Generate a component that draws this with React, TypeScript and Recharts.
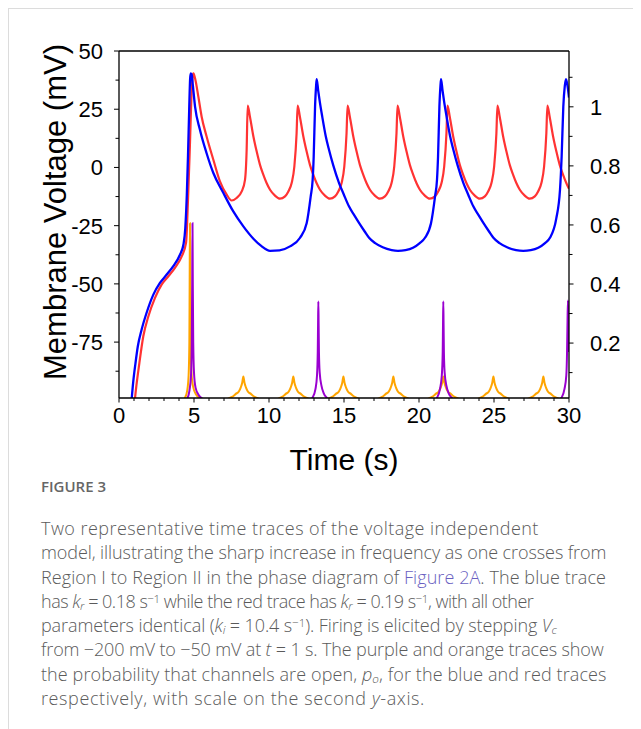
import React from "react";
import { LineChart, Line, XAxis, YAxis, ReferenceLine } from "recharts";

// ---------- data ----------
const timeTicks = [0,1,2,3,4,5,6,7,8,9,10,11,12,13,14,15,16,17,18,19,20,21,22,23,24,25,26,27,28,29,30];
const voltageTicks = [-87.5,-75,-62.5,-50,-37.5,-25,-12.5,0,12.5,25,37.5,50];
const probTicks = [0.1,0.2,0.3,0.4,0.5,0.6,0.7,0.8,0.9,1.0,1.1];
const probMajorLabels: Record<string, string> = { "0.2": "0.2", "0.4": "0.4", "0.6": "0.6", "0.8": "0.8", "1": "1" };

// blue membrane voltage (t [s], V [mV])
const blueVoltage: [number, number][] = [
  [0.8,-103],[0.95,-92],[1.1,-84],[1.25,-77],[1.51,-69.6],[1.84,-62.4],[2.29,-54.6],[2.73,-49.6],
  [3.18,-46],[3.62,-42.4],[4.07,-37.4],[4.3,-33],[4.42,-26],[4.52,-12],[4.6,5],[4.68,25],[4.74,38],
  [4.78,40.4],[4.84,40],[4.91,36.1],[5.07,26.1],[5.4,16.1],[5.84,6.1],[6.29,-2.4],[6.96,-11],
  [7.62,-18.9],[8.29,-25.3],[8.96,-30.6],[9.5,-33.8],[10.07,-35.8],[10.7,-35.6],[11.4,-33.9],
  [12.07,-30.2],[12.51,-24],[12.78,-12.4],[12.91,-5.3],[12.98,4.7],[13.07,26],[13.14,35],[13.18,37.9],
  [13.28,33],[13.38,28.5],[13.55,21.8],[13.78,13.5],[14.0,7.6],[14.28,1],[14.67,-6.7],[14.98,-11.5],
  [15.33,-16.7],[15.68,-20.5],[16.0,-23.8],[16.38,-27.5],[16.67,-30.2],[17.08,-32.5],[17.58,-34.3],
  [18.18,-35.5],[18.6,-35.8],[19.1,-35.5],[19.6,-34.5],[20.05,-32.5],[20.4,-30.2],[20.8,-24],
  [21.07,-12.4],[21.2,-5.3],[21.27,4.7],[21.36,26],[21.43,35],[21.47,37.9],
  [21.57,33],[21.67,28.5],[21.84,21.8],[22.07,13.5],[22.29,7.6],[22.57,1],[22.96,-6.7],[23.27,-11.5],
  [23.62,-16.7],[23.97,-20.5],[24.29,-23.8],[24.67,-27.5],[24.96,-30.2],[25.37,-32.5],[25.87,-34.3],
  [26.47,-35.5],[26.95,-35.8],[27.45,-35.5],[27.95,-34.5],[28.4,-32.5],[28.73,-30.2],[29.15,-22],
  [29.4,-9.6],[29.51,4.7],[29.62,26],[29.72,35],[29.8,37.9],[29.9,35],[30,30]
];

// red membrane voltage (t [s], V [mV])
const redVoltage: [number, number][] = [
  [1.0,-104],[1.07,-99],[1.36,-83.9],[1.62,-72.5],[1.96,-63.9],[2.4,-56],[2.84,-50.3],[3.29,-46.7],
  [3.73,-43.1],[4.18,-38.2],[4.47,-32.4],[4.6,-14],[4.73,10],[4.84,32],[4.9,38.5],[4.96,40.4],
  [5.07,38.3],[5.29,30.4],[5.51,21.8],[5.84,13.3],[6.29,3.3],[6.73,-6],[7.18,-11.7],[7.51,-14.2],
  [7.84,-13.1],[8.18,-10.3],[8.4,-5.3],[8.51,7.6],[8.58,26.6],
  [8.73,21.8],[8.96,13.3],[9.18,6.8],[9.4,1.1],[9.62,-3.1],[9.84,-6.7],[10.07,-9.6],[10.4,-12.1],
  [10.73,-13.4],[11.07,-12.4],[11.29,-10.3],[11.51,-6.7],[11.69,0.4],[11.84,14.7],[11.91,26.6],
  [12.06,21.8],[12.29,13.3],[12.51,6.8],[12.73,1.1],[12.95,-3.1],[13.17,-6.7],[13.4,-9.6],[13.73,-12.1],
  [14.06,-13.4],[14.4,-12.4],[14.62,-10.3],[14.84,-6.7],[15.02,0.4],[15.17,14.7],[15.24,26.6],
  [15.39,21.8],[15.62,13.3],[15.84,6.8],[16.06,1.1],[16.28,-3.1],[16.5,-6.7],[16.73,-9.6],[17.06,-12.1],
  [17.39,-13.4],[17.73,-12.4],[17.95,-10.3],[18.17,-6.7],[18.35,0.4],[18.5,14.7],[18.57,26.6],
  [18.72,21.8],[18.95,13.3],[19.17,6.8],[19.39,1.1],[19.61,-3.1],[19.83,-6.7],[20.06,-9.6],[20.39,-12.1],
  [20.72,-13.4],[21.06,-12.4],[21.28,-10.3],[21.5,-6.7],[21.68,0.4],[21.83,14.7],[21.9,26.6],
  [22.05,21.8],[22.28,13.3],[22.5,6.8],[22.72,1.1],[22.94,-3.1],[23.16,-6.7],[23.39,-9.6],[23.72,-12.1],
  [24.05,-13.4],[24.39,-12.4],[24.61,-10.3],[24.83,-6.7],[25.01,0.4],[25.16,14.7],[25.23,26.6],
  [25.38,21.8],[25.61,13.3],[25.83,6.8],[26.05,1.1],[26.27,-3.1],[26.49,-6.7],[26.72,-9.6],[27.05,-12.1],
  [27.38,-13.4],[27.72,-12.4],[27.94,-10.3],[28.16,-6.7],[28.34,0.4],[28.49,14.7],[28.56,26.6],
  [28.71,21.8],[28.94,13.3],[29.16,6.8],[29.38,1.1],[29.6,-3.1],[29.82,-6.7],[30,-9.2]
];

// purple: open probability for the blue trace (t [s], p_o)
const purpleOpenProb: [number, number][] = [
  [0,0],[4.3,0],[4.55,0.012],[4.7,0.04],[4.8,0.09],[4.85,0.2],[4.88,0.4],[4.9,0.606],[4.92,0.4],
  [4.95,0.2],[5.0,0.1],[5.1,0.05],[5.3,0.025],[5.6,0.01],[6.0,0],
  [12.6,0],[12.9,0.015],[13.1,0.045],[13.2,0.09],[13.25,0.17],[13.27,0.26],[13.29,0.341],[13.31,0.26],
  [13.33,0.17],[13.38,0.1],[13.5,0.055],[13.65,0.03],[13.85,0.015],[14.2,0],
  [20.9,0],[21.2,0.015],[21.4,0.045],[21.52,0.09],[21.58,0.17],[21.6,0.26],[21.62,0.341],[21.64,0.26],
  [21.66,0.17],[21.71,0.1],[21.83,0.055],[21.98,0.03],[22.18,0.015],[22.5,0],
  [29.2,0],[29.5,0.015],[29.7,0.045],[29.82,0.09],[29.87,0.17],[29.9,0.27],[29.93,0.344],[29.96,0.26],[30,0.17]
];

// orange: open probability for the red trace (t [s], p_o)
const orangeOpenProb: [number, number][] = [
  [0,0],[4.1,0],[4.4,0.015],[4.55,0.04],[4.64,0.09],[4.69,0.2],[4.71,0.4],[4.73,0.606],[4.75,0.4],
  [4.78,0.2],[4.83,0.1],[4.95,0.05],[5.15,0.025],[5.5,0.01],[5.9,0],
  [7.0,0],[7.29,0.012],[7.54,0.018],[7.79,0.028],[7.99,0.036],[8.12,0.05],[8.21,0.065],[8.29,0.087],
  [8.37,0.065],[8.46,0.05],[8.59,0.036],[8.79,0.028],[9.04,0.018],[9.29,0.012],[9.6,0.004],
  [10.33,0.004],[10.62,0.012],[10.87,0.018],[11.12,0.028],[11.32,0.036],[11.45,0.05],[11.54,0.065],[11.62,0.087],
  [11.7,0.065],[11.79,0.05],[11.92,0.036],[12.12,0.028],[12.37,0.018],[12.62,0.012],[12.93,0.004],
  [13.67,0.004],[13.96,0.012],[14.21,0.018],[14.46,0.028],[14.66,0.036],[14.79,0.05],[14.88,0.065],[14.96,0.087],
  [15.04,0.065],[15.13,0.05],[15.26,0.036],[15.46,0.028],[15.71,0.018],[15.96,0.012],[16.27,0.004],
  [17.0,0.004],[17.29,0.012],[17.54,0.018],[17.79,0.028],[17.99,0.036],[18.12,0.05],[18.21,0.065],[18.29,0.087],
  [18.37,0.065],[18.46,0.05],[18.59,0.036],[18.79,0.028],[19.04,0.018],[19.29,0.012],[19.6,0.004],
  [20.33,0.004],[20.62,0.012],[20.87,0.018],[21.12,0.028],[21.32,0.036],[21.45,0.05],[21.54,0.065],[21.62,0.087],
  [21.7,0.065],[21.79,0.05],[21.92,0.036],[22.12,0.028],[22.37,0.018],[22.62,0.012],[22.93,0.004],
  [23.67,0.004],[23.96,0.012],[24.21,0.018],[24.46,0.028],[24.66,0.036],[24.79,0.05],[24.88,0.065],[24.96,0.087],
  [25.04,0.065],[25.13,0.05],[25.26,0.036],[25.46,0.028],[25.71,0.018],[25.96,0.012],[26.27,0.004],
  [27.0,0.004],[27.29,0.012],[27.54,0.018],[27.79,0.028],[27.99,0.036],[28.12,0.05],[28.21,0.065],[28.29,0.087],
  [28.37,0.065],[28.46,0.05],[28.59,0.036],[28.79,0.028],[29.04,0.018],[29.29,0.012],[29.6,0.004],[30,0]
];

// ---------- helpers ----------
const toRows = (pairs: [number, number][]) => pairs.map(([t, v]) => ({ t, v }));
const blueRows = toRows(blueVoltage);
const redRows = toRows(redVoltage);
const purpleRows = toRows(purpleOpenProb);
const orangeRows = toRows(orangeOpenProb);

const FONT = "'Liberation Sans', Arial, Helvetica, sans-serif";
const TICK_FONT = 22;

const LeftTick = (props: any) => {
  const { x, y, payload } = props;
  const v = payload.value;
  const major = Math.abs(v % 25) < 1e-6;
  return (
    <g>
      <line x1={x} x2={x - (major ? 5 : 3.5)} y1={y} y2={y} stroke="#000" strokeWidth={1} />
      {major && (
        <text x={x - 16} y={y} dy="0.36em" textAnchor="end" fontSize={TICK_FONT} fontFamily={FONT} fill="#000">
          {v}
        </text>
      )}
    </g>
  );
};

const RightTick = (props: any) => {
  const { x, y, payload } = props;
  const key = String(Math.round(payload.value * 10) / 10);
  const label = probMajorLabels[key];
  return (
    <g>
      <line x1={x} x2={x + (label ? 4.5 : 3.5)} y1={y} y2={y} stroke="#000" strokeWidth={1} />
      {label && (
        <text x={x + 21} y={y} dy="0.36em" textAnchor="start" fontSize={TICK_FONT} fontFamily={FONT} fill="#000">
          {label}
        </text>
      )}
    </g>
  );
};

const BottomTick = (props: any) => {
  const { x, y, payload } = props;
  const v = payload.value;
  const major = v % 5 === 0;
  return (
    <g>
      <line x1={x} x2={x} y1={y} y2={y + (major ? 4.5 : 3)} stroke="#000" strokeWidth={1} />
      {major && (
        <text x={x} y={y + 25} textAnchor="middle" fontSize={TICK_FONT} fontFamily={FONT} fill="#000">
          {v}
        </text>
      )}
    </g>
  );
};

const XTitle = () => (
  <text x={335} y={461} textAnchor="middle" fontSize={30} fontFamily={FONT} fill="#000">
    Time (s)
  </text>
);

const YTitle = () => (
  <text
    x={0}
    y={0}
    transform="translate(57 203) rotate(-90)"
    textAnchor="middle"
    fontSize={31}
    fontFamily={FONT}
    fill="#000"
  >
    Membrane Voltage (mV)
  </text>
);

const lineStyle = (spacing: number): React.CSSProperties => ({
  whiteSpace: "nowrap",
  height: 24.3,
  lineHeight: "24.3px",
  letterSpacing: `${spacing}px`,
});
const subStyle: React.CSSProperties = { fontSize: "0.65em", lineHeight: 0, verticalAlign: "-0.15em", fontStyle: "italic" };
const supStyle: React.CSSProperties = { fontSize: "0.65em", lineHeight: 0, verticalAlign: "0.4em" };

export default function App() {
  return (
    <div
      style={{
        position: "relative",
        width: 633,
        height: 721,
        borderTop: "1px solid #dcdcdc",
        borderLeft: "1px solid #dcdcdc",
        boxSizing: "border-box",
        background: "#fff",
        overflow: "hidden",
      }}
    >
      <div style={{ position: "absolute", left: 0, top: 0 }}>
        <LineChart
          width={632}
          height={480}
          margin={{ top: 42, right: 0, bottom: 0, left: 0 }}
        >
          <XAxis
            type="number"
            dataKey="t"
            xAxisId="x"
            domain={[0, 30]}
            ticks={timeTicks}
            interval={0}
            allowDataOverflow
            height={91}
            tickSize={0}
            tickMargin={0}
            tick={<BottomTick />}
            axisLine={{ stroke: "#000", strokeWidth: 1.3 }}
            label={XTitle}
          />
          <YAxis
            yAxisId="left"
            type="number"
            domain={[-99, 50]}
            ticks={voltageTicks}
            interval={0}
            allowDataOverflow
            width={110}
            tickSize={0}
            tickMargin={0}
            tick={<LeftTick />}
            axisLine={{ stroke: "#000", strokeWidth: 1.3 }}
            label={YTitle}
          />
          <YAxis
            yAxisId="right"
            orientation="right"
            type="number"
            domain={[0.014, 1.189]}
            ticks={probTicks}
            interval={0}
            allowDataOverflow
            width={72}
            tickSize={0}
            tickMargin={0}
            tick={<RightTick />}
            axisLine={{ stroke: "#000", strokeWidth: 1.3 }}
          />
          <ReferenceLine xAxisId="x" yAxisId="left" y={50} stroke="#000" strokeWidth={1.3} />
          <Line
            xAxisId="x"
            yAxisId="left"
            data={redRows}
            dataKey="v"
            type="monotone"
            stroke="#ff3333"
            strokeWidth={2.2}
            dot={false}
            isAnimationActive={false}
          />
          <Line
            xAxisId="x"
            yAxisId="left"
            data={blueRows}
            dataKey="v"
            type="monotone"
            stroke="#0000ff"
            strokeWidth={2.3}
            dot={false}
            isAnimationActive={false}
          />
          <Line
            xAxisId="x"
            yAxisId="right"
            data={orangeRows}
            dataKey="v"
            type="monotone"
            stroke="#ffa500"
            strokeWidth={2}
            dot={false}
            isAnimationActive={false}
          />
          <Line
            xAxisId="x"
            yAxisId="right"
            data={purpleRows}
            dataKey="v"
            type="monotone"
            stroke="#9a00d0"
            strokeWidth={2}
            dot={false}
            isAnimationActive={false}
          />
        </LineChart>
      </div>

      <div
        style={{
          position: "absolute",
          left: 32,
          top: 468,
          fontFamily: "'Open Sans', Lato, sans-serif",
          fontSize: 15,
          fontWeight: 600,
          color: "#666",
          lineHeight: "19px",
        }}
      >
        FIGURE 3
      </div>
      <div
        style={{
          position: "absolute",
          left: 32,
          top: 507,
          fontFamily: "'Open Sans', Lato, sans-serif",
          fontSize: 18,
          fontWeight: 300,
          color: "#5b5b5b",
        }}
      >
        <div style={lineStyle(0.45)}>Two representative time traces of the voltage independent</div>
        <div style={lineStyle(-0.08)}>model, illustrating the sharp increase in frequency as one crosses from</div>
        <div style={lineStyle(0.07)}>
          Region I to Region II in the phase diagram of <span style={{ color: "#6a5fc1" }}>Figure 2A</span>. The blue trace
        </div>
        <div style={lineStyle(-0.5)}>
          has <i>k</i><sub style={subStyle}>r</sub> = 0.18 s<sup style={supStyle}>−1</sup> while the red trace has{" "}
          <i>k</i><sub style={subStyle}>r</sub> = 0.19 s<sup style={supStyle}>−1</sup>, with all other
        </div>
        <div style={lineStyle(-0.1)}>
          parameters identical (<i>k</i><sub style={subStyle}>i</sub> = 10.4 s<sup style={supStyle}>−1</sup>). Firing is
          elicited by stepping <i>V</i><sub style={subStyle}>c</sub>
        </div>
        <div style={lineStyle(-0.14)}>
          from −200 mV to −50 mV at <i>t</i> = 1 s. The purple and orange traces show
        </div>
        <div style={lineStyle(0.1)}>
          the probability that channels are open, <i>p</i><sub style={subStyle}>o</sub>, for the blue and red traces
        </div>
        <div style={lineStyle(0.6)}>
          respectively, with scale on the second <i>y</i>-axis.
        </div>
      </div>
    </div>
  );
}
